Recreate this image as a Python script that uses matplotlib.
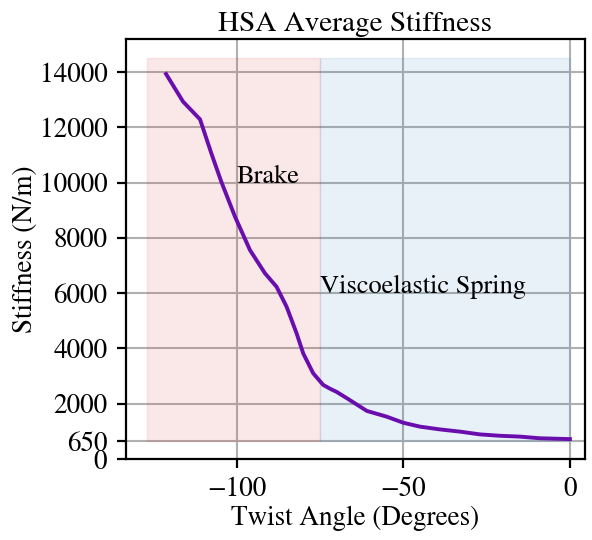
import matplotlib.pyplot as plt

plt.rcParams['font.family'] = 'serif'
plt.rcParams['font.serif'] = ['STIXGeneral', 'Liberation Serif', 'DejaVu Serif']
plt.rcParams['mathtext.fontset'] = 'stix'

# stiffness curve
angle = [-121.3, -116.2, -111.1, -107.7, -104.7, -100.6, -96.1, -91.6, -88.1, -85.1,
         -82.1, -80.1, -77.1, -74.1, -72, -70.1, -67, -61, -55, -50, -45, -39, -33,
         -27, -21, -15, -9, 0]
stiffness = [13930, 12930, 12290, 11060, 10030, 8770, 7560, 6720, 6230, 5510,
             4550, 3820, 3100, 2680, 2540, 2430, 2200, 1740, 1530, 1310, 1170, 1070, 990,
             890, 840, 810, 750, 720]

brake_span = [-127, -75]
spring_span = [-75, 0]
shade_low, shade_high = 650, 14500
yticks = [0, 650, 2000, 4000, 6000, 8000, 10000, 12000, 14000]
xticks = [-100, -50, 0]

fig = plt.figure(figsize=(5.92, 5.4), dpi=100)
ax = fig.add_axes([0.213, 0.15, 0.775, 0.778])

ax.fill_between(brake_span, shade_low, shade_high, color='tab:red', alpha=0.1)
ax.fill_between(spring_span, shade_low, shade_high, color='tab:blue', alpha=0.1)
ax.plot(angle, stiffness, color='#6a0dad', lw=2.8, zorder=3)

ax.text(-100, 10000, 'Brake', fontsize=19)
ax.text(-75, 6000, 'Viscoelastic Spring', fontsize=19)

ax.set_xlim(-133.3, 4.5)
ax.set_ylim(0, 15200)
ax.set_xticks(xticks)
ax.set_yticks(yticks)
ax.grid(True, color='#b0b0b0', lw=1.5)
ax.set_axisbelow(True)
for s in ax.spines.values():
    s.set_linewidth(1.6)
ax.tick_params(labelsize=19.5, width=1.6, length=6.5)
ax.tick_params(axis='y', pad=7)
ax.tick_params(axis='x', pad=6)

ax.set_title('HSA Average Stiffness', fontsize=21, pad=6)
ax.set_xlabel('Twist Angle (Degrees)', fontsize=19.5, labelpad=3)
ax.set_ylabel('Stiffness (N/m)', fontsize=19.5, labelpad=1)

plt.savefig('out.png')
